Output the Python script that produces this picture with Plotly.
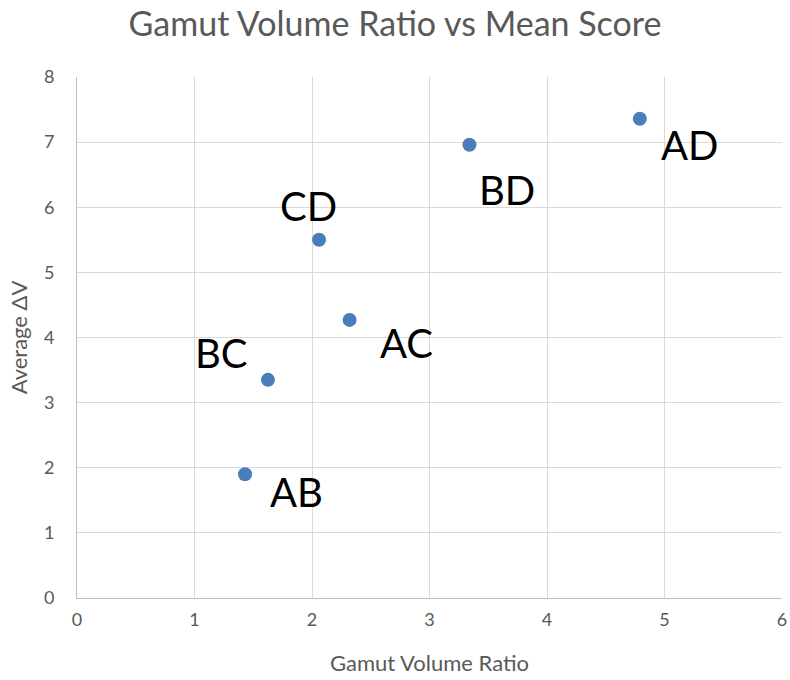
import plotly.graph_objects as go

labels = ["AB", "BC", "CD", "AC", "BD", "AD"]
gamut_ratio = [1.43, 1.625, 2.06, 2.32, 3.34, 4.79]
avg_dv = [1.90, 3.35, 5.50, 4.27, 6.96, 7.36]
# label offsets in pixels (x right, y up)
label_dx = [51, -46, -11, 57, 38, 50]
label_dy = [-18, 27, 34, -23, -45, -26]

fig = go.Figure()
fig.add_trace(go.Scatter(
    x=gamut_ratio, y=avg_dv, mode="markers",
    marker=dict(size=14, color="#4a7ebb"),
    showlegend=False, hoverinfo="skip",
))

for lab, x, y, dx, dy in zip(labels, gamut_ratio, avg_dv, label_dx, label_dy):
    fig.add_annotation(x=x, y=y, text=lab, showarrow=False,
                       xshift=dx, yshift=dy,
                       font=dict(family="Lato", size=40, color="#000000"))

axis_common = dict(
    showgrid=True, gridcolor="#d9d9d9", gridwidth=1,
    showline=True, linecolor="#bfbfbf", linewidth=1,
    zeroline=False, ticks="", automargin=False,
    ticklabeloverflow="allow",
    tickfont=dict(family="Lato", size=18, color="#595959"),
    title_font=dict(family="Lato", size=22, color="#595959"),
)

fig.update_layout(
    width=790, height=680,
    margin=dict(l=77, r=8, t=77, b=82, autoexpand=False),
    paper_bgcolor="white", plot_bgcolor="white",
    title=dict(text="Gamut Volume Ratio vs Mean Score", x=0.5, xanchor="center",
               xref="container",
               y=0.965, yanchor="middle",
               font=dict(family="Lato", size=34, color="#595959")),
    xaxis=dict(range=[0, 6], dtick=1, title=dict(text="Gamut Volume Ratio", standoff=27),
               **axis_common),
    yaxis=dict(range=[0, 8], dtick=1, title=dict(text="Average ΔV", standoff=10),
               **axis_common),
)
fig.update_xaxes(ticklabelstandoff=5)
fig.update_yaxes(ticklabelstandoff=18)

fig.write_html(
    "out.html",
    config={"displayModeBar": False, "staticPlot": True},
    post_script="document.body.style.margin='0';document.body.style.overflow='hidden';",
)
